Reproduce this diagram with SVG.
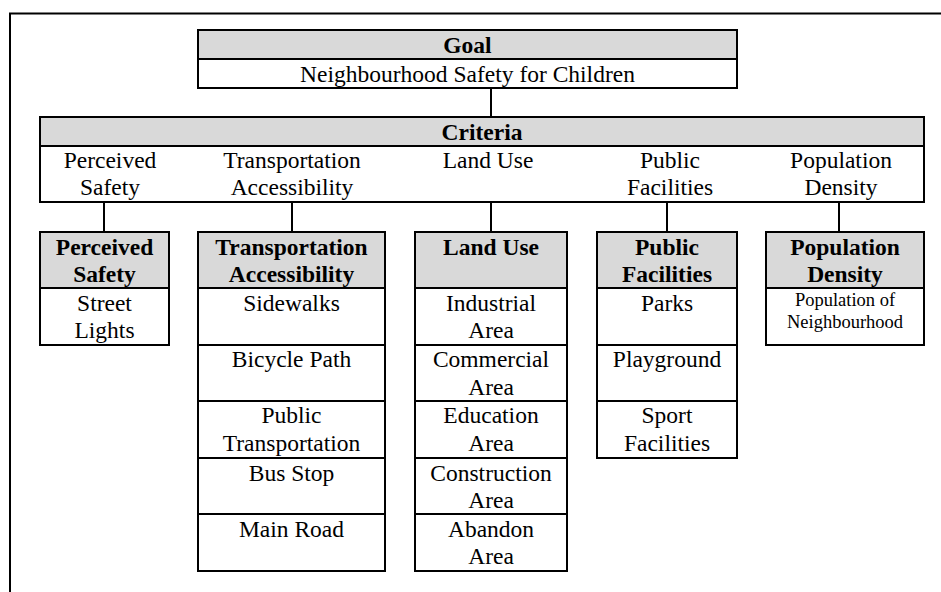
<svg xmlns="http://www.w3.org/2000/svg" width="941" height="592" viewBox="0 0 941 592">
  <style>
    .box { fill: #ffffff; stroke: #000000; stroke-width: 2; }
    .head { fill: #d9d9d9; stroke: #000000; stroke-width: 2; }
    .line { stroke: #000000; stroke-width: 2; fill: none; }
    text { font-family: "Liberation Serif", "Times New Roman", serif; font-size: 23.5px; fill: #000000; text-anchor: middle; }
    text.b { font-weight: bold; }
    text.s { font-size: 18.5px; }
  </style>
  <rect x="0" y="0" width="941" height="592" fill="#ffffff"/>
  <!-- outer frame (runs past the right and bottom edges) -->
  <rect class="line" x="10" y="13.5" width="960" height="620"/>

  <g id="connectors">
    <line class="line" x1="491" y1="88" x2="491" y2="117"/>
    <line class="line" x1="104" y1="202" x2="104" y2="232"/>
    <line class="line" x1="292" y1="202" x2="292" y2="232"/>
    <line class="line" x1="491" y1="202" x2="491" y2="232"/>
    <line class="line" x1="667" y1="202" x2="667" y2="232"/>
    <line class="line" x1="839" y1="202" x2="839" y2="232"/>
  </g>

  <g id="goal">
    <rect class="head" x="198" y="30" width="539" height="29"/>
    <rect class="box" x="198" y="59" width="539" height="29"/>
    <text class="b" x="467.5" y="53">Goal</text>
    <text x="467.5" y="81.5">Neighbourhood Safety for Children</text>
  </g>

  <g id="criteria">
    <rect class="head" x="40" y="117" width="884" height="29"/>
    <rect class="box" x="40" y="146" width="884" height="56"/>
    <text class="b" x="482" y="140">Criteria</text>
    <text x="110" y="168">Perceived</text>
    <text x="110" y="195">Safety</text>
    <text x="292" y="168">Transportation</text>
    <text x="292" y="195">Accessibility</text>
    <text x="488" y="168">Land Use</text>
    <text x="670" y="168">Public</text>
    <text x="670" y="195">Facilities</text>
    <text x="841" y="168">Population</text>
    <text x="841" y="195">Density</text>
  </g>

  <g id="perceived-safety">
    <rect class="head" x="40" y="232" width="129" height="56"/>
    <rect class="box" x="40" y="288" width="129" height="57"/>
    <text class="b" x="104.5" y="255">Perceived</text>
    <text class="b" x="104.5" y="281.5">Safety</text>
    <text x="104.5" y="310.5">Street</text>
    <text x="104.5" y="338">Lights</text>
  </g>

  <g id="transportation-accessibility">
    <rect class="head" x="198" y="232" width="187" height="56"/>
    <rect class="box" x="198" y="288" width="187" height="57"/>
    <rect class="box" x="198" y="345" width="187" height="56"/>
    <rect class="box" x="198" y="401" width="187" height="57"/>
    <rect class="box" x="198" y="458" width="187" height="56"/>
    <rect class="box" x="198" y="514" width="187" height="57"/>
    <text class="b" x="291.5" y="255">Transportation</text>
    <text class="b" x="291.5" y="281.5">Accessibility</text>
    <text x="291.5" y="310.5">Sidewalks</text>
    <text x="291.5" y="367">Bicycle Path</text>
    <text x="291.5" y="423">Public</text>
    <text x="291.5" y="450.5">Transportation</text>
    <text x="291.5" y="480.5">Bus Stop</text>
    <text x="291.5" y="537">Main Road</text>
  </g>

  <g id="land-use">
    <rect class="head" x="415" y="232" width="152" height="56"/>
    <rect class="box" x="415" y="288" width="152" height="57"/>
    <rect class="box" x="415" y="345" width="152" height="56"/>
    <rect class="box" x="415" y="401" width="152" height="57"/>
    <rect class="box" x="415" y="458" width="152" height="56"/>
    <rect class="box" x="415" y="514" width="152" height="57"/>
    <text class="b" x="491" y="255">Land Use</text>
    <text x="491" y="310.5">Industrial</text>
    <text x="491" y="338">Area</text>
    <text x="491" y="367">Commercial</text>
    <text x="491" y="394.5">Area</text>
    <text x="491" y="423">Education</text>
    <text x="491" y="450.5">Area</text>
    <text x="491" y="480.5">Construction</text>
    <text x="491" y="507.5">Area</text>
    <text x="491" y="537">Abandon</text>
    <text x="491" y="564">Area</text>
  </g>

  <g id="public-facilities">
    <rect class="head" x="597" y="232" width="140" height="56"/>
    <rect class="box" x="597" y="288" width="140" height="57"/>
    <rect class="box" x="597" y="345" width="140" height="56"/>
    <rect class="box" x="597" y="401" width="140" height="57"/>
    <text class="b" x="667" y="255">Public</text>
    <text class="b" x="667" y="281.5">Facilities</text>
    <text x="667" y="310.5">Parks</text>
    <text x="667" y="367">Playground</text>
    <text x="667" y="423">Sport</text>
    <text x="667" y="450.5">Facilities</text>
  </g>

  <g id="population-density">
    <rect class="head" x="766" y="232" width="158" height="56"/>
    <rect class="box" x="766" y="288" width="158" height="57"/>
    <text class="b" x="845" y="255">Population</text>
    <text class="b" x="845" y="281.5">Density</text>
    <text class="s" x="845" y="306">Population of</text>
    <text class="s" x="845" y="327.5">Neighbourhood</text>
  </g>
</svg>
